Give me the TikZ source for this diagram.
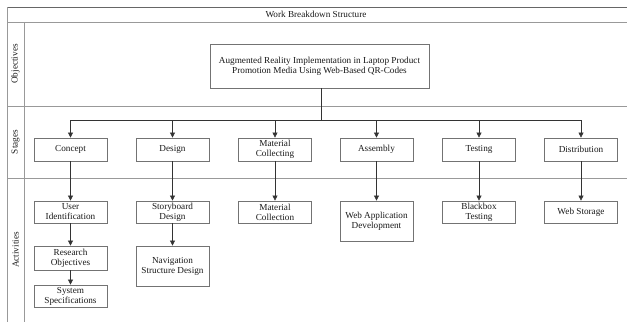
\documentclass[tikz,border=0pt]{standalone}
\usepackage{fontspec}
\setmainfont{Liberation Serif}
\usetikzlibrary{arrows.meta}
\begin{document}
\begin{tikzpicture}[x=1pt,y=-1pt,
 box/.style={draw=black!55, line width=0.8pt, fill=white, inner sep=0.5pt, align=center,
   font=\fontsize{9.2}{10}\selectfont, text=black!90, minimum width=73pt},
 arr/.style={-{Triangle[length=5pt,width=5pt]}, line width=0.6pt, draw=black!80},
 frameline/.style={draw=black!40, line width=1pt},
 rowlabel/.style={rotate=90, font=\fontsize{9.2}{10}\selectfont, text=black!90}]
\useasboundingbox (0,0) rectangle (627,322);
% frame
\draw[frameline, draw=black!60, line width=0.7pt] (7,7) -- (627,7);
\draw[frameline] (7,7) -- (7,322);
\draw[frameline] (24,22) -- (24,322);
\draw[frameline] (7,22) -- (627,22);
\draw[frameline] (7,106) -- (627,106);
\draw[frameline] (7,178) -- (627,178);
\node[font=\fontsize{9.2}{10}\selectfont, text=black!90] (title) at (316,14.5) {Work Breakdown Structure};
\node[rowlabel] (lobj) at (15.5,64) {Objectives};
\node[rowlabel] (lsta) at (15.5,142) {Stages};
\node[rowlabel] (lact) at (15.5,250) {Activities};
% objective
\node[box, minimum width=219pt, minimum height=44pt] (obj) at (319.5,66)
 {Augmented Reality Implementation in Laptop Product\\Promotion Media Using Web-Based QR-Codes};
% stages
\node[box, minimum height=23pt] (s1) at (70.5,149.5) {Concept};
\node[box, minimum height=23pt] (s2) at (172.5,149.5) {Design};
\node[box, minimum height=23pt] (s3) at (275,149.5) {Material\\Collecting};
\node[box, minimum height=23pt] (s4) at (376.5,149.5) {Assembly};
\node[box, minimum height=23pt] (s5) at (479,149.5) {Testing};
\node[box, minimum height=23pt] (s6) at (581,149.5) {Distribution};
% activities
\node[box, minimum height=22pt] (a1) at (70.5,212) {User\\Identification};
\node[box, minimum height=24pt] (a1b) at (70.5,258) {Research\\Objectives};
\node[box, minimum height=22pt] (a1c) at (70.5,296) {System\\Specifications};
\node[box, minimum height=22pt] (a2) at (172.5,212) {Storyboard\\Design};
\node[box, minimum height=40pt] (a2b) at (172.5,266) {Navigation\\Structure Design};
\node[box, minimum height=22pt] (a3) at (275,212) {Material\\Collection};
\node[box, minimum height=40pt] (a4) at (376.5,221) {Web Application\\Development};
\node[box, minimum height=22pt] (a5) at (479,212) {Blackbox\\Testing};
\node[box, minimum height=22pt] (a6) at (581,212) {Web Storage};
% connectors
\coordinate (bar) at (321,120);
\draw[line width=0.6pt, draw=black!80] (obj.south -| bar) -- (bar);
\draw[line width=0.6pt, draw=black!80] (s1.north |- bar) -- (s6.north |- bar);
\foreach \s in {s1,s2,s3,s4,s5,s6} \draw[arr] (\s.north |- bar) -- (\s.north);
\draw[arr] (s1) -- (a1);
\draw[arr] (a1) -- (a1b);
\draw[arr] (a1b) -- (a1c);
\draw[arr] (s2) -- (a2);
\draw[arr] (a2) -- (a2b);
\draw[arr] (s3) -- (a3);
\draw[arr] (s4) -- (a4);
\draw[arr] (s5) -- (a5);
\draw[arr] (s6) -- (a6);
\end{tikzpicture}
\end{document}
